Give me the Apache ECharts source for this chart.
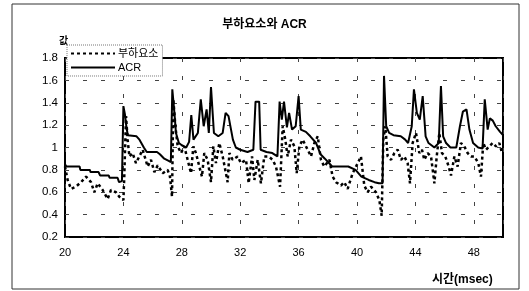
<!DOCTYPE html>
<html>
<head>
<meta charset="utf-8">
<script src="https://cdn.jsdelivr.net/npm/echarts@6/dist/echarts.min.js"></script>
<style>html,body{margin:0;padding:0;background:#fff;}#c{width:529px;height:291px;}</style>
</head>
<body>
<div id="c"></div>
<script>
// ---- data ----
const titleText = '부하요소와 ACR';
const seriesNames = ['부하요소', 'ACR'];
const yName = '값';
const xName = '시간(msec)';
const xTicks = [20, 24, 28, 32, 36, 40, 44, 48];
const yTicks = [0.2, 0.4, 0.6, 0.8, 1, 1.2, 1.4, 1.6, 1.8];

const loadTime = [20.0,20.18,20.41,20.75,21.10,21.44,21.78,22.01,22.24,22.58,22.92,23.15,23.49,23.72,24.0,24.06,24.18,24.29,24.41,24.63,24.86,25.09,25.32,25.66,25.89,26.12,26.35,26.69,27.03,27.19,27.33,27.42,27.56,27.72,27.95,28.17,28.40,28.63,28.79,28.97,29.20,29.38,29.54,29.77,30.0,30.16,30.34,30.57,30.80,31.14,31.26,31.48,31.83,32.05,32.40,32.58,32.81,32.97,33.20,33.42,33.65,33.95,34.22,34.45,34.73,34.91,35.09,35.25,35.48,35.71,35.87,36.05,36.28,36.62,36.85,37.08,37.31,37.53,37.76,38.11,38.33,38.56,38.90,39.13,39.36,39.70,40.05,40.27,40.50,40.73,40.96,41.30,41.53,41.69,41.80,41.94,42.10,42.33,42.56,42.79,43.01,43.24,43.47,43.63,43.81,44.04,44.27,44.45,44.61,44.84,45.07,45.30,45.46,45.64,45.82,46.05,46.28,46.44,46.67,46.89,47.12,47.35,47.58,47.81,48.04,48.31,48.49,48.65,48.84,49.06,49.29,49.52,49.75,49.93];
const loadValue = [0.83,0.71,0.63,0.65,0.69,0.74,0.69,0.60,0.68,0.62,0.54,0.62,0.60,0.56,0.53,0.74,1.28,1.07,0.92,0.95,0.86,0.92,0.98,0.83,0.89,0.78,0.84,0.77,0.80,0.74,0.56,1.43,1.19,1.01,0.95,1.01,0.89,0.77,1.01,0.95,0.83,0.74,0.95,0.89,0.69,1.01,0.86,1.04,0.92,0.69,0.95,0.89,0.92,0.86,0.89,0.68,0.92,0.71,0.89,0.68,0.92,0.92,0.89,0.83,0.65,1.19,1.07,0.92,1.07,1.01,0.77,1.01,1.07,0.98,0.92,1.04,1.10,0.89,0.83,0.89,0.74,0.69,0.66,0.69,0.63,0.77,0.86,0.92,0.66,0.60,0.65,0.60,0.53,0.39,1.07,1.19,0.92,0.89,0.95,0.98,0.89,0.92,0.86,0.68,1.04,1.13,0.95,0.98,0.89,0.95,0.92,0.68,0.92,1.13,0.95,0.92,0.83,0.75,0.92,0.83,1.04,1.01,0.95,0.92,0.92,0.86,0.74,1.04,0.98,1.01,1.04,1.01,1.04,0.95];

const acrTime = [20.0,20.1,21.0,21.05,21.7,21.75,22.3,22.4,23.0,23.05,23.6,23.7,23.9,24.0,24.1,24.2,24.3,24.9,25.1,25.4,25.6,26.3,26.5,26.8,27.1,27.25,27.35,27.5,27.6,27.8,28.0,28.3,28.5,28.65,28.8,29.1,29.3,29.5,29.7,29.85,30.0,30.2,30.5,30.8,31.0,31.2,31.5,31.7,32.0,32.5,32.9,33.05,33.3,33.4,33.8,34.2,34.55,34.7,34.85,35.0,35.2,35.35,35.55,35.8,36.0,36.15,36.5,36.8,37.2,37.5,37.8,38.3,38.8,39.4,39.9,40.3,40.8,41.2,41.5,41.75,41.85,42.0,42.2,42.5,43.0,43.3,43.5,43.75,43.9,44.1,44.3,44.5,44.7,44.9,45.3,45.6,45.75,45.9,46.1,46.4,46.8,47.05,47.25,47.5,47.7,47.95,48.3,48.6,48.75,48.95,49.1,49.3,49.5,49.8,50.0];
const acrValue = [0.85,0.83,0.83,0.80,0.80,0.78,0.78,0.75,0.75,0.73,0.73,0.69,0.70,1.37,1.30,1.19,1.11,1.10,1.07,1.00,0.96,0.96,0.94,0.90,0.88,0.87,1.52,1.30,1.13,1.04,1.02,1.00,1.05,1.29,1.07,1.13,1.43,1.19,1.34,1.13,1.54,1.13,1.10,1.13,1.31,1.28,1.07,1.00,0.98,0.96,0.98,1.41,1.41,0.98,0.96,0.95,0.92,1.41,1.25,1.41,1.18,1.31,1.16,1.19,1.46,1.16,1.14,1.10,1.04,0.94,0.90,0.83,0.83,0.83,0.80,0.74,0.71,0.69,0.68,0.68,1.64,1.19,1.13,1.11,1.10,1.07,1.04,1.19,1.52,1.31,1.25,1.46,1.10,1.04,1.00,1.04,1.55,1.10,1.04,1.00,1.00,1.19,1.32,1.34,1.16,1.04,1.00,0.99,1.43,1.16,1.26,1.24,1.19,1.14,1.11];
// --------------------------------------

const FONT = '"Liberation Sans", "Noto Sans CJK KR", sans-serif';
const chart = echarts.init(document.getElementById('c'), null, {renderer: 'canvas'});
const pairs = (t, v) => t.map((x, i) => [x, v[i]]);
const fmtY = v => String(parseFloat(Number(v).toFixed(1)));

chart.setOption({
  animation: false,
  backgroundColor: '#fff',
  title: {
    text: titleText, left: 'center', top: 14,
    textStyle: {fontFamily: FONT, fontSize: 12, fontWeight: 'bold', color: '#000'}
  },
  legend: {
    orient: 'vertical', left: 67, top: 45,
    padding: [3, 4, 3, 3], itemGap: 3, itemWidth: 44, itemHeight: 10,
    backgroundColor: '#fff', borderColor: '#777', borderWidth: 1, borderType: 'dotted',
    itemStyle: {opacity: 0},
    textStyle: {fontFamily: FONT, fontSize: 11, color: '#000', padding: [0, 0, 0, -2]},
    data: seriesNames
  },
  grid: {
    left: 65, right: 26, top: 58, bottom: 54,
    show: true, borderColor: '#000', borderWidth: 2, backgroundColor: 'transparent'
  },
  xAxis: {
    type: 'value', min: xTicks[0], max: 50, interval: 4,
    axisLine: {show: false}, axisTick: {show: false},
    axisLabel: {showMaxLabel: false, margin: 10, color: '#000', fontFamily: FONT, fontSize: 11},
    splitLine: {show: true, lineStyle: {color: '#444', width: 1, type: [4, 14]}}
  },
  yAxis: {
    type: 'value', min: yTicks[0], max: yTicks[yTicks.length - 1], interval: 0.2,
    axisLine: {show: false}, axisTick: {show: false},
    axisLabel: {margin: 7, color: '#000', fontFamily: FONT, fontSize: 11.5, formatter: fmtY},
    splitLine: {show: true, lineStyle: {color: '#444', width: 1, type: [4, 14]}}
  },
  graphic: [
    {type: 'rect', shape: {x: 12, y: 4, width: 507, height: 285}, style: {fill: 'none', stroke: '#333', lineWidth: 1}, silent: true, z: -10},
    {type: 'text', left: 59, top: 36, style: {text: yName, fontFamily: FONT, fontSize: 10, fontWeight: 'bold', fill: '#000'}},
    {type: 'text', left: 432, top: 274, style: {text: xName, fontFamily: FONT, fontSize: 12, fontWeight: 'bold', fill: '#000'}}
  ],
  series: [
    {
      name: seriesNames[0], type: 'line', symbol: 'none', showSymbol: false,
      data: pairs(loadTime, loadValue),
      lineStyle: {color: '#000', width: 2.5, type: [3, 3]},
      itemStyle: {color: '#000'}, z: 2
    },
    {
      name: seriesNames[1], type: 'line', symbol: 'none', showSymbol: false,
      data: pairs(acrTime, acrValue),
      lineStyle: {color: '#000', width: 2, type: 'solid'},
      itemStyle: {color: '#000'}, z: 3
    }
  ]
});
</script>
</body>
</html>
